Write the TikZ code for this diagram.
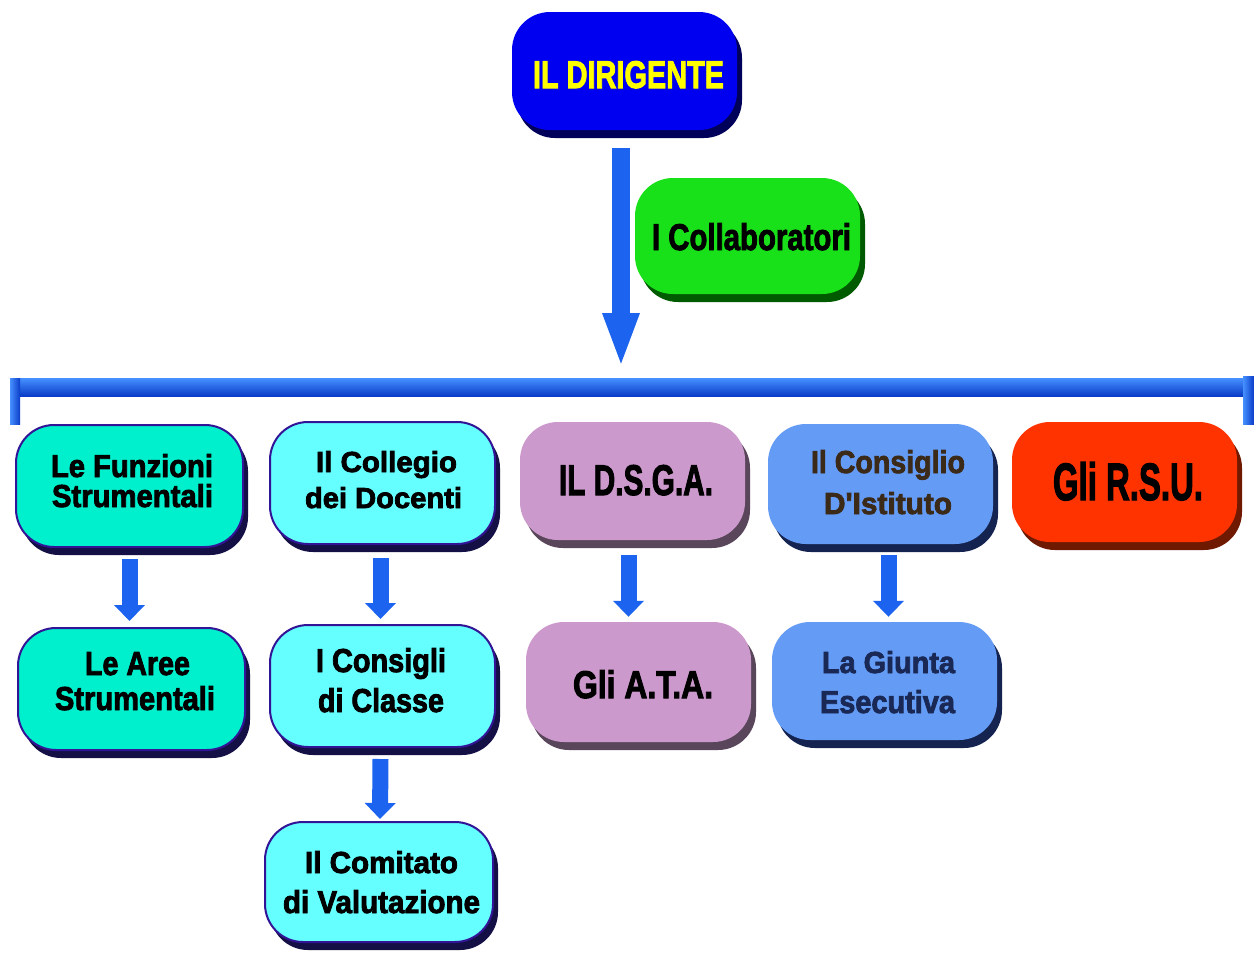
\documentclass[tikz,border=0pt]{standalone}
\usepackage{fontspec}
\setmainfont{Liberation Sans}
\newfontfamily\hvy{Liberation Sans}[UprightFont=* Bold,FakeBold=2.6]
\usepackage{graphicx}
\usetikzlibrary{arrows.meta,shadows}
\definecolor{cDir}{RGB}{0,0,240}
\definecolor{cDirRim}{RGB}{0,0,90}
\definecolor{cCol}{RGB}{25,225,25}
\definecolor{cColRim}{RGB}{0,90,0}
\definecolor{cFun}{RGB}{0,240,205}
\definecolor{cCyan}{RGB}{102,255,255}
\definecolor{cCyRim}{RGB}{20,16,70}
\definecolor{cBorder}{RGB}{50,20,150}
\definecolor{cPink}{RGB}{204,153,204}
\definecolor{cPinkRim}{RGB}{90,70,90}
\definecolor{cBlue}{RGB}{100,155,245}
\definecolor{cBlueRim}{RGB}{20,35,80}
\definecolor{cRed}{RGB}{255,51,0}
\definecolor{cRedRim}{RGB}{110,25,0}
\definecolor{cYellow}{RGB}{255,255,0}
\definecolor{cBrown}{RGB}{60,42,25}
\definecolor{cNavy}{RGB}{25,40,85}
\definecolor{arrowblue}{RGB}{28,100,240}
\definecolor{barTop}{RGB}{70,145,255}
\definecolor{barBot}{RGB}{10,60,200}
\begin{document}
\begin{tikzpicture}[x=1pt,y=-1pt,
  box/.style={shape=rectangle, rounded corners=38pt, inner sep=0pt,
    minimum width=225pt, minimum height=120pt},
  rim/.style={drop shadow={shadow xshift=5pt, shadow yshift=-8pt, fill=#1, opacity=1}},
  lbl/.style={anchor=base, inner sep=0pt, font=\hvy},
  conn/.style={draw=arrowblue, line width=16pt,
    -{Triangle[width=30pt,length=16pt]}},
  bigconn/.style={draw=arrowblue, line width=18pt,
    -{Triangle[width=33pt,length=55pt]}}
]
\useasboundingbox (0,0) rectangle (1254,954);
\fill[white] (0,0) rectangle (1254,954);

% top nodes
\node[box, rim=cDirRim, fill=cDir, minimum height=118pt] (dir) at (624.5,71) {};
\node[lbl, text=cYellow] (dirT) at (628.5,88) {\resizebox{191pt}{27pt}{IL DIRIGENTE}};

\node[box, rim=cColRim, fill=cCol, minimum height=116pt] (col) at (747.5,236) {};
\node[lbl] (colT) at (751.5,250) {\resizebox{199pt}{27pt}{I Collaboratori}};

% bar
\coordinate (mtip) at (621,368);
\shade[top color=barTop, bottom color=barBot] (10,378) rectangle (1254,396);
\shade[left color=barTop, right color=barBot] (10,378) rectangle (20,424);
\shade[left color=barTop, right color=barBot] (1243,376) rectangle (1254,424);
\draw[bigconn] ([yshift=-18pt]dir.south -| mtip) -- (mtip);

% second row
\node[box, rim=cCyRim, fill=cFun, draw=cBorder, line width=2pt, minimum width=227pt, minimum height=122pt] (fun) at (129.5,486) {};
\node[lbl] (funT1) at (132,477) {\resizebox{162pt}{23pt}{Le Funzioni}};
\node[lbl] (funT2) at (132.5,507) {\resizebox{161pt}{23pt}{Strumentali}};

\node[box, rim=cCyRim, fill=cCyan, draw=cBorder, line width=2pt, minimum height=122pt] (cdd) at (382.5,483) {};
\node[lbl] (cddT1) at (386.5,472) {\resizebox{141pt}{21pt}{Il Collegio}};
\node[lbl] (cddT2) at (383.5,508) {\resizebox{157pt}{21pt}{dei Docenti}};

\node[box, rim=cPinkRim, fill=cPink, minimum height=118pt] (dsga) at (632.5,481) {};
\node[lbl] (dsgaT) at (636,495) {\resizebox{154pt}{30pt}{IL D.S.G.A.}};

\node[box, rim=cBlueRim, fill=cBlue] (cdi) at (880.5,484) {};
\node[lbl, text=cBrown] (cdiT1) at (888,473) {\resizebox{154pt}{23pt}{Il Consiglio}};
\node[lbl, text=cBrown] (cdiT2) at (888,514) {\resizebox{128pt}{22pt}{D'Istituto}};

\node[box, rim=cRedRim, fill=cRed] (rsu) at (1124.5,482) {};
\node[lbl] (rsuT) at (1128,500) {\resizebox{150pt}{38pt}{Gli R.S.U.}};

% third row
\node[box, rim=cCyRim, fill=cFun, draw=cBorder, line width=2pt, minimum width=227pt, minimum height=122pt] (aree) at (131.5,689) {};
\node[lbl] (areeT1) at (137.5,675) {\resizebox{105pt}{23pt}{Le Aree}};
\node[lbl] (areeT2) at (135,710) {\resizebox{160pt}{24pt}{Strumentali}};

\node[box, rim=cCyRim, fill=cCyan, draw=cBorder, line width=2pt, minimum height=122pt] (cdc) at (382.5,686) {};
\node[lbl] (cdcT1) at (381,672) {\resizebox{130pt}{24pt}{I Consigli}};
\node[lbl] (cdcT2) at (381,712) {\resizebox{126pt}{24pt}{di Classe}};

\node[box, rim=cPinkRim, fill=cPink] (ata) at (638.5,682) {};
\node[lbl] (ataT) at (643,698) {\resizebox{140pt}{28pt}{Gli A.T.A.}};

\node[box, rim=cBlueRim, fill=cBlue, minimum height=118pt] (giunta) at (884.5,681) {};
\node[lbl, text=cNavy] (giuT1) at (888.5,673) {\resizebox{133pt}{22pt}{La Giunta}};
\node[lbl, text=cNavy] (giuT2) at (887.5,713) {\resizebox{135pt}{23pt}{Esecutiva}};

% fourth row
\node[box, rim=cCyRim, fill=cCyan, draw=cBorder, line width=2pt, minimum width=228pt] (com) at (379,882) {};
\node[lbl] (comT1) at (381.5,873) {\resizebox{153pt}{22pt}{Il Comitato}};
\node[lbl] (comT2) at (381.5,913) {\resizebox{197pt}{23pt}{di Valutazione}};

% connectors
\draw[conn] ([yshift=-11pt]fun.south) -- ([xshift=-2pt,yshift=6pt]aree.north);
\draw[conn] ([xshift=-2pt,yshift=-13pt]cdd.south) -- ([xshift=-2pt,yshift=5pt]cdc.north);
\draw[conn] ([xshift=-4pt,yshift=-15pt]dsga.south) -- ([xshift=-10pt,yshift=5pt]ata.north);
\draw[conn] ([xshift=8pt,yshift=-11pt]cdi.south) -- ([xshift=4pt,yshift=5pt]giunta.north);
\draw[conn] ([xshift=-2pt,yshift=-11pt]cdc.south) -- ([xshift=1pt,yshift=2pt]com.north);
\end{tikzpicture}
\end{document}
